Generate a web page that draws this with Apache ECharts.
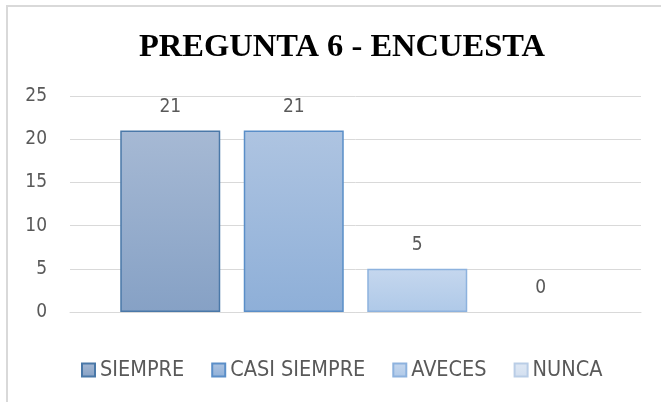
<!DOCTYPE html>
<html>
<head>
<meta charset="utf-8">
<script src="https://cdn.jsdelivr.net/npm/echarts@6/dist/echarts.min.js"></script>
<style>
html,body{margin:0;padding:0;background:#fff;}
#chart{width:661px;height:402px;}
</style>
</head>
<body>
<div id="chart"></div>
<script>
var titleText = 'PREGUNTA 6 - ENCUESTA';
var categories = [''];
var seriesNames = ['SIEMPRE', 'CASI SIEMPRE', 'AVECES', 'NUNCA'];
var seriesValues = [21, 21, 5, 0];
var yTicks = [0, 5, 10, 15, 20, 25];

var fills = [
  ['#a6b9d4', '#86a1c5'],
  ['#aec4e1', '#8eafd8'],
  ['#c5d7ee', '#afc9e8'],
  ['#dfe8f4', '#d2dff0']
];
var borders = ['#4a78a8', '#5a8ec8', '#8db2de', '#b9cde6'];
var labelFont = '"Liberation Sans Narrow", "DejaVu Sans Condensed", "Liberation Sans", sans-serif';

var chart = echarts.init(document.getElementById('chart'));
var series = seriesNames.map(function (name, i) {
  return {
    name: name,
    type: 'bar',
    barWidth: 100,
    barGap: '23.5%',
    data: [seriesValues[i] === 0 ? { value: 0, itemStyle: { borderWidth: 0 } } : seriesValues[i]],
    itemStyle: {
      color: new echarts.graphic.LinearGradient(0, 0, 0, 1, [
        { offset: 0, color: fills[i][0] },
        { offset: 1, color: fills[i][1] }
      ]),
      borderColor: borders[i],
      borderWidth: 1.5
    },
    label: {
      show: true,
      position: 'top',
      distance: 14,
      color: '#595959',
      fontSize: 19,
      fontFamily: labelFont
    }
  };
});

chart.setOption({
  animation: false,
  backgroundColor: '#fff',
  graphic: [{
    type: 'rect',
    silent: true,
    shape: { x: 7, y: 6, width: 700, height: 500 },
    style: { fill: 'none', stroke: '#d9d9d9', lineWidth: 2 }
  }],
  title: {
    text: titleText,
    left: 134,
    top: 26,
    textStyle: {
      fontFamily: '"Liberation Serif", "Times New Roman", serif',
      fontWeight: 'bold',
      fontSize: 32.5,
      color: '#000'
    }
  },
  legend: {
    data: seriesNames,
    icon: 'rect',
    left: 76,
    top: 354,
    itemWidth: 13,
    itemHeight: 13,
    itemGap: 27,
    textStyle: { color: '#595959', fontSize: 21.5, fontFamily: labelFont }
  },
  grid: { left: 70, right: 20, top: 96, bottom: 90 },
  xAxis: {
    type: 'category',
    data: categories,
    axisLine: { show: true, lineStyle: { color: '#d9d9d9', width: 1 } },
    axisTick: { show: false },
    axisLabel: { show: false }
  },
  yAxis: {
    type: 'value',
    min: yTicks[0],
    max: yTicks[yTicks.length - 1],
    interval: 5,
    axisLine: { show: false },
    axisTick: { show: false },
    splitLine: { lineStyle: { color: '#d9d9d9', width: 1 } },
    axisLabel: { color: '#595959', fontSize: 19, fontFamily: labelFont, margin: 23 }
  },
  series: series
});
</script>
</body>
</html>
